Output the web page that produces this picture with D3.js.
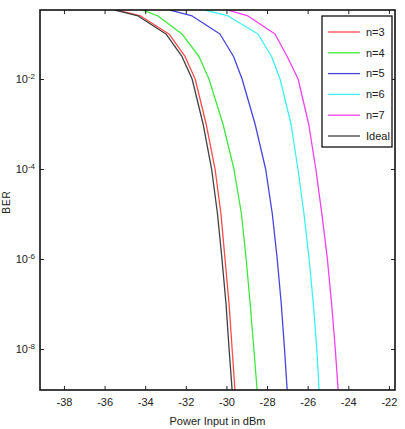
<!DOCTYPE html>
<html>
<head>
<meta charset="utf-8">
<script src="https://cdn.jsdelivr.net/npm/d3@7"></script>
<style>
  body { margin: 0; background: #fff; }
  text { font-family: "Liberation Sans Narrow", "Liberation Sans", Arial, sans-serif; }
</style>
</head>
<body>
<svg id="chart" width="405" height="429"></svg>
<script>
var berLevels = [0.34, 0.251, 0.1, 0.0316, 1e-2, 1e-3, 1e-4, 1e-5, 1e-6, 1e-7, 1e-8, 1.23e-9]

// power input (dBm) at which each curve crosses the BER levels above
var powerN3 = [-35.39, -34.23, -32.83, -32.04, -31.54, -31.0, -30.56, -30.27, -30.07, -29.87, -29.72, -29.58]
var powerN4 = [-34.11, -33.37, -32.19, -31.35, -30.86, -30.17, -29.63, -29.26, -29.03, -28.83, -28.65, -28.49]
var powerN5 = [-32.78, -31.69, -30.32, -29.65, -29.23, -28.59, -28.07, -27.74, -27.50, -27.30, -27.14, -27.01]
var powerN6 = [-31.05, -29.92, -28.45, -27.78, -27.36, -26.82, -26.48, -26.18, -25.93, -25.72, -25.55, -25.44]
var powerN7 = [-29.92, -28.94, -27.61, -27.01, -26.47, -25.95, -25.60, -25.30, -25.03, -24.82, -24.64, -24.50]
var powerIdeal = [-35.49, -34.35, -32.98, -32.19, -31.69, -31.15, -30.73, -30.44, -30.22, -30.02, -29.87, -29.72]

var seriesNames = ["n=3", "n=4", "n=5", "n=6", "n=7", "Ideal"]
var seriesColors = ["#ff4a4a", "#3ee83e", "#4646dc", "#3ef0f0", "#f040f0", "#404040"]
var seriesPowers = [powerN3, powerN4, powerN5, powerN6, powerN7, powerIdeal]

var xTicks = [-38, -36, -34, -32, -30, -28, -26, -24, -22]
var yTicks = [1e-8, 1e-6, 1e-4, 1e-2]

function drawChart() {
    var pLeft = 40, pRight = 395, pTop = 10, pBottom = 390

    var svg = d3.select("#chart")

    var x = d3.scaleLinear().domain([-39.18, -21.7]).range([pLeft, pRight])
    var y = d3.scaleLog().domain([1.23e-9, 0.341]).range([pBottom, pTop])

    svg.append("defs").append("clipPath").attr("id", "plotclip")
        .append("rect")
        .attr("x", pLeft).attr("y", pTop)
        .attr("width", pRight - pLeft).attr("height", pBottom - pTop)

    // curves
    var line = d3.line()
        .x(function(d) { return x(d[0]) })
        .y(function(d) { return y(d[1]) })

    var curves = svg.append("g").attr("clip-path", "url(#plotclip)")
    seriesPowers.forEach(function(p, i) {
        var pts = p.map(function(v, j) { return [v, berLevels[j]] })
        curves.append("path")
            .attr("d", line(pts))
            .attr("fill", "none")
            .attr("stroke", seriesColors[i])
            .attr("stroke-width", 1.3)
            .attr("stroke-linejoin", "round")
    })

    // axes with inward ticks
    var xAxis = svg.append("g")
        .attr("transform", "translate(0," + pBottom + ")")
        .call(d3.axisBottom(x).tickValues(xTicks).tickSize(-4).tickSizeOuter(0).tickPadding(8))
    svg.append("g")
        .attr("transform", "translate(0," + pTop + ")")
        .call(d3.axisTop(x).tickValues(xTicks).tickSize(-4).tickSizeOuter(0).tickFormat(""))
    var yAxis = svg.append("g")
        .attr("transform", "translate(" + pLeft + ",0)")
        .call(d3.axisLeft(y).tickValues(yTicks).tickSize(-4).tickSizeOuter(0).tickPadding(5))
    svg.append("g")
        .attr("transform", "translate(" + pRight + ",0)")
        .call(d3.axisRight(y).tickValues(yTicks).tickSize(-4).tickSizeOuter(0).tickFormat(""))

    svg.selectAll(".domain").remove()
    svg.selectAll(".tick line").attr("stroke", "#222").attr("stroke-width", 1)

    xAxis.selectAll("text")
        .attr("font-size", "11px")
        .attr("fill", "#222")
        .text(function(d) { return d })

    yAxis.selectAll(".tick text")
        .attr("font-size", "11px")
        .attr("fill", "#222")
        .each(function(d) {
            var t = d3.select(this)
            t.text("10")
            t.append("tspan")
                .attr("dy", "-0.5em")
                .attr("font-size", "8px")
                .text(Math.round(Math.log10(d)))
        })

    // frame
    svg.append("rect")
        .attr("x", pLeft).attr("y", pTop)
        .attr("width", pRight - pLeft).attr("height", pBottom - pTop)
        .attr("fill", "none")
        .attr("stroke", "#111")
        .attr("stroke-width", 1.6)

    // axis titles
    svg.append("text")
        .attr("x", (pLeft + pRight) / 2)
        .attr("y", 425)
        .attr("text-anchor", "middle")
        .attr("font-size", "11px")
        .attr("fill", "#222")
        .text("Power Input in dBm")

    svg.append("text")
        .attr("transform", "translate(10,202) rotate(-90)")
        .attr("text-anchor", "middle")
        .attr("font-size", "10px")
        .attr("letter-spacing", "1px")
        .attr("fill", "#222")
        .text("BER")

    // legend
    var legend = svg.append("g")
    legend.append("rect")
        .attr("x", 322).attr("y", 16)
        .attr("width", 70).attr("height", 131)
        .attr("fill", "#fff")
        .attr("stroke", "#111")
        .attr("stroke-width", 1.3)

    var rowY = d3.scalePoint().domain(seriesNames).range([32, 136])
    seriesNames.forEach(function(name, i) {
        legend.append("line")
            .attr("x1", 328).attr("x2", 360)
            .attr("y1", rowY(name)).attr("y2", rowY(name))
            .attr("stroke", seriesColors[i])
            .attr("stroke-width", 1.3)
        legend.append("text")
            .attr("x", 366)
            .attr("y", rowY(name))
            .attr("dy", "0.35em")
            .attr("font-size", "11px")
            .attr("fill", "#222")
            .text(name)
    })
}

drawChart()
</script>
</body>
</html>
